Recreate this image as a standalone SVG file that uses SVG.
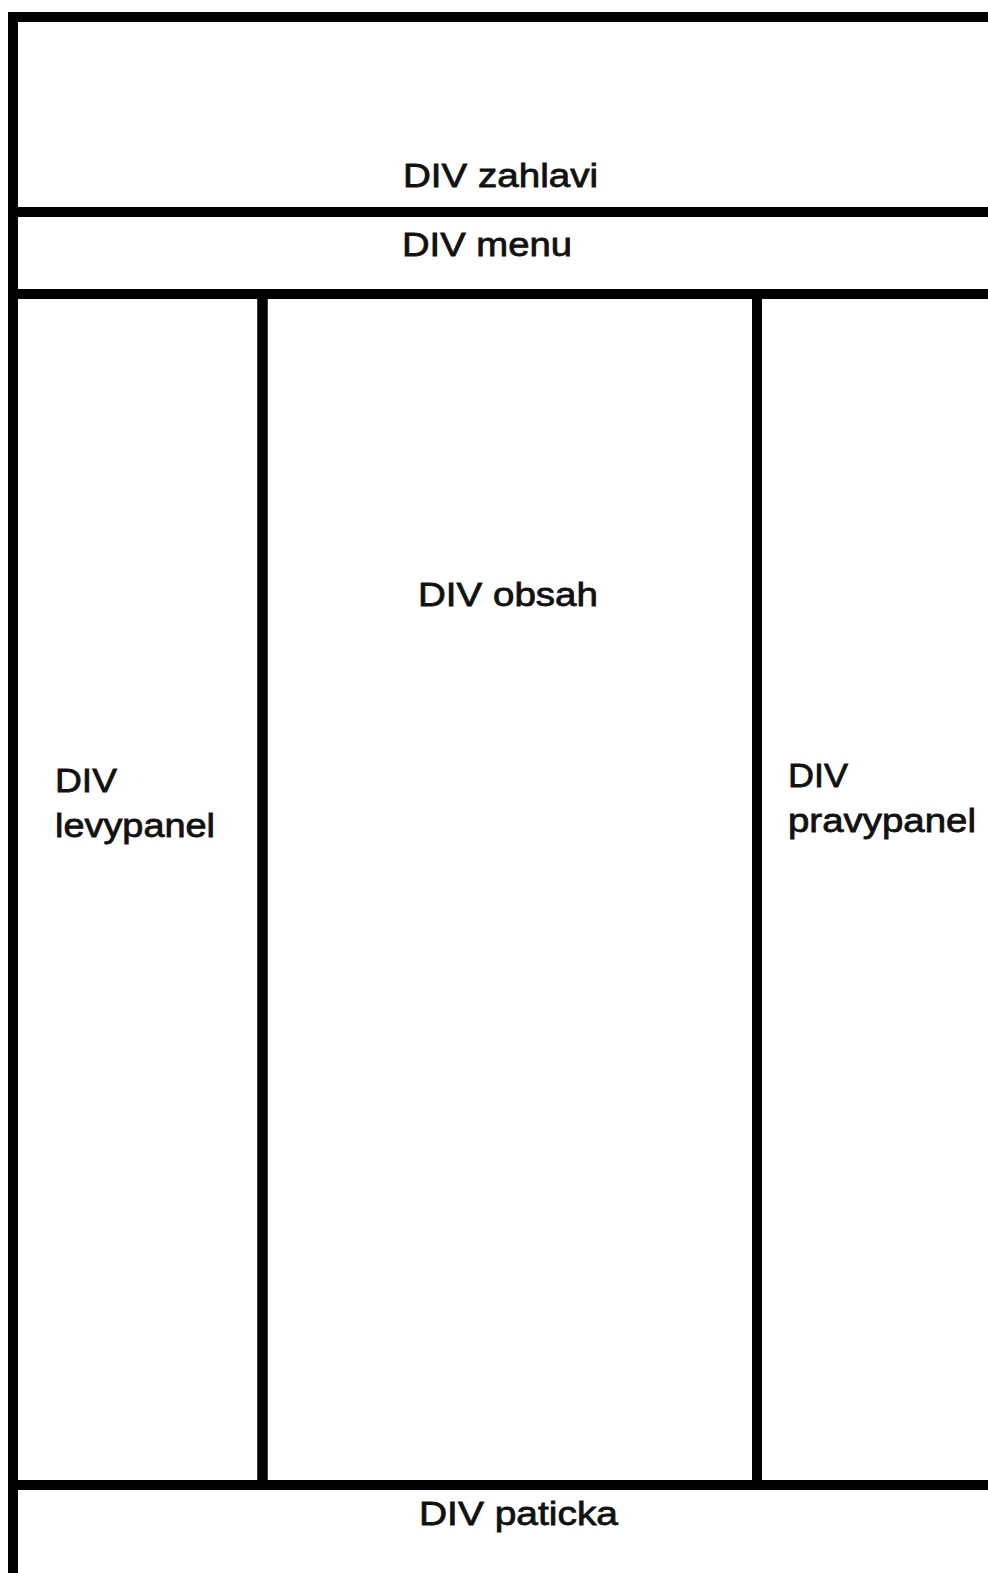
<svg xmlns="http://www.w3.org/2000/svg" width="988" height="1573" viewBox="0 0 988 1573">
<style>
.box{fill:none;stroke:#000;stroke-width:10}
.lbl{font-family:"Liberation Sans",Arial,Helvetica,sans-serif;font-size:34px;fill:#111;stroke:#111;stroke-width:0.8}
</style>
<rect x="0" y="0" width="988" height="1573" fill="#fff"/>
<g id="zahlavi">
<rect class="box" x="13" y="17" width="1000" height="195"/>
<text class="lbl" x="403" y="187" textLength="195" lengthAdjust="spacingAndGlyphs">DIV zahlavi</text>
</g>
<g id="menu">
<rect class="box" x="13" y="212" width="1000" height="82"/>
<text class="lbl" x="402" y="256" textLength="170" lengthAdjust="spacingAndGlyphs">DIV menu</text>
</g>
<g id="levypanel">
<rect class="box" x="13" y="294" width="249.5" height="1191"/>
<text class="lbl" x="55" y="792" textLength="62" lengthAdjust="spacingAndGlyphs">DIV</text>
<text class="lbl" x="55" y="837" textLength="160" lengthAdjust="spacingAndGlyphs">levypanel</text>
</g>
<g id="obsah">
<rect class="box" x="262.5" y="294" width="494.5" height="1191"/>
<text class="lbl" x="418" y="606" textLength="180" lengthAdjust="spacingAndGlyphs">DIV obsah</text>
</g>
<g id="pravypanel">
<rect class="box" x="757" y="294" width="300" height="1191"/>
<text class="lbl" x="788" y="787" textLength="60" lengthAdjust="spacingAndGlyphs">DIV</text>
<text class="lbl" x="788" y="832" textLength="188" lengthAdjust="spacingAndGlyphs">pravypanel</text>
</g>
<g id="paticka">
<rect class="box" x="13" y="1485" width="1000" height="200"/>
<text class="lbl" x="419" y="1525" textLength="199" lengthAdjust="spacingAndGlyphs">DIV paticka</text>
</g>
<g id="connectors"></g>
</svg>
